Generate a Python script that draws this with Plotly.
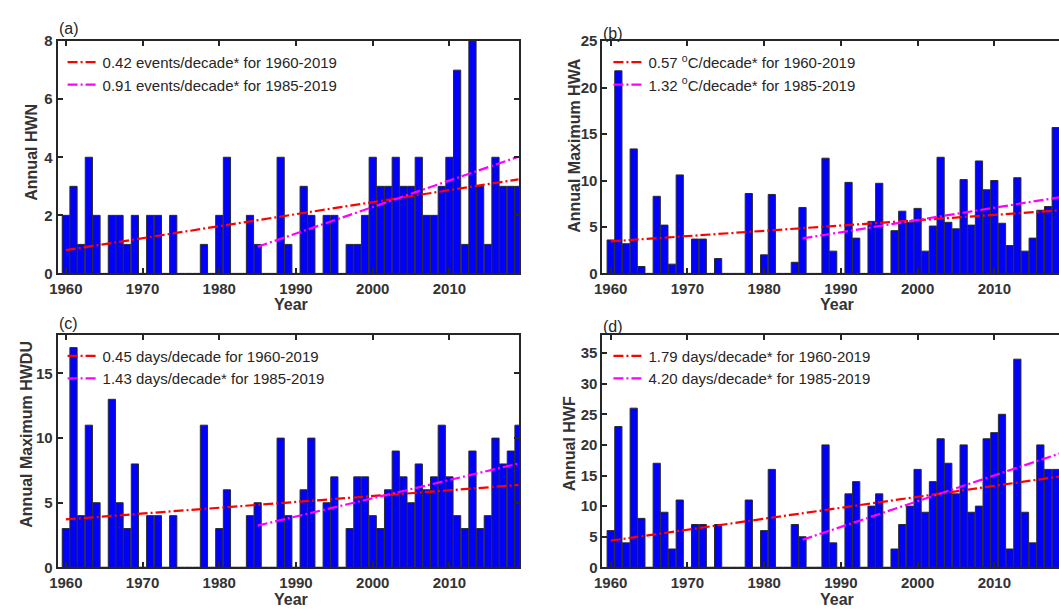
import plotly.graph_objects as go

# ---------------- data ----------------
years = list(range(1960, 2020))

hwn = [2, 3, 1, 4, 2, 0, 2, 2, 1, 2,
       0, 2, 2, 0, 2, 0, 0, 0, 1, 0,
       2, 4, 0, 0, 2, 1, 0, 0, 4, 1,
       0, 3, 2, 0, 2, 2, 0, 1, 1, 2,
       4, 3, 3, 4, 3, 3, 4, 2, 2, 3,
       4, 7, 1, 8, 3, 1, 4, 3, 3, 3]

hwa = [3.6, 21.8, 3.2, 13.4, 0.75, 0, 8.3, 5.2, 1.0, 10.6,
       0, 3.7, 3.7, 0, 1.6, 0, 0, 0, 8.6, 0,
       2.0, 8.5, 0, 0, 1.2, 7.1, 0, 0, 12.4, 2.4,
       0, 9.8, 3.8, 0, 5.6, 9.7, 0, 4.6, 6.7, 5.5,
       7.0, 2.4, 5.1, 12.5, 5.5, 4.8, 10.1, 5.2, 12.1, 9.0,
       10.0, 5.4, 3.0, 10.3, 2.4, 3.8, 6.8, 7.2, 15.7, 9.3]

hwdu = [3, 17, 4, 11, 5, 0, 13, 5, 3, 8,
        0, 4, 4, 0, 4, 0, 0, 0, 11, 0,
        3, 6, 0, 0, 4, 5, 0, 0, 10, 4,
        0, 6, 10, 0, 5, 7, 0, 3, 7, 7,
        4, 3, 6, 9, 7, 5, 8, 6, 7, 11,
        7, 4, 3, 9, 3, 4, 10, 8, 9, 11]

hwf = [6, 23, 4, 26, 8, 0, 17, 9, 3, 11,
       0, 7, 7, 0, 7, 0, 0, 0, 11, 0,
       6, 16, 0, 0, 7, 5, 0, 0, 20, 4,
       0, 12, 14, 0, 10, 12, 0, 3, 7, 10,
       16, 9, 14, 21, 17, 12, 20, 9, 10, 21,
       22, 25, 3, 34, 9, 4, 20, 16, 16, 17]

trend_full_years = [1960, 2019]
trend_recent_years = [1985, 2019]

hwn_trend_full = [0.80, 3.24]
hwn_trend_recent = [0.92, 4.02]
hwa_trend_full = [3.45, 6.81]
hwa_trend_recent = [3.77, 8.26]
hwdu_trend_full = [3.71, 6.37]
hwdu_trend_recent = [3.23, 8.03]
hwf_trend_full = [4.36, 14.92]
hwf_trend_recent = [4.50, 18.80]

legend_a = ["0.42 events/decade* for 1960-2019", "0.91 events/decade* for 1985-2019"]
legend_b = ["0.57 <sup>o</sup>C/decade* for 1960-2019", "1.32 <sup>o</sup>C/decade* for 1985-2019"]
legend_c = ["0.45 days/decade for 1960-2019", "1.43 days/decade* for 1985-2019"]
legend_d = ["1.79 days/decade* for 1960-2019", "4.20 days/decade* for 1985-2019"]

ylabels = ["Annual HWN", "Annual Maximum HWA", "Annual Maximum HWDU", "Annual HWF"]
panel_tags = ["(a)", "(b)", "(c)", "(d)"]
x_ticks = [1960, 1970, 1980, 1990, 2000, 2010]
y_ticks_a = [0, 2, 4, 6, 8]
y_ticks_b = [0, 5, 10, 15, 20, 25]
y_ticks_c = [0, 5, 10, 15]
y_ticks_d = [0, 5, 10, 15, 20, 25, 30, 35]

# ---------------- layout helpers ----------------
W, H = 1059, 612
FONT = "Liberation Sans, Arial, Helvetica, sans-serif"
AX = "#262626"
TXT = "#333333"
DASH = "10px,3px,2px,3px"


def px(p):
    return p / W


def py(p):
    return 1 - p / H


fig = go.Figure()

panels = [
    (hwn, hwn_trend_full, hwn_trend_recent, legend_a, "", "legend"),
    (hwa, hwa_trend_full, hwa_trend_recent, legend_b, "2", "legend2"),
    (hwdu, hwdu_trend_full, hwdu_trend_recent, legend_c, "3", "legend3"),
    (hwf, hwf_trend_full, hwf_trend_recent, legend_d, "4", "legend4"),
]

for vals, tf, tr, names, s, leg in panels:
    xa = "x" + s
    ya = "y" + s
    fig.add_trace(go.Bar(
        x=years, y=vals, xaxis=xa, yaxis=ya,
        marker=dict(color="#0000FF", line=dict(color="#2b2b2b", width=1)),
        showlegend=False, hoverinfo="x+y",
    ))
    fig.add_trace(go.Scatter(
        x=trend_full_years, y=tf, xaxis=xa, yaxis=ya, mode="lines",
        line=dict(color="#FF0000", width=2.2, dash=DASH),
        name=names[0], legend=leg,
    ))
    fig.add_trace(go.Scatter(
        x=trend_recent_years, y=tr, xaxis=xa, yaxis=ya, mode="lines",
        line=dict(color="#FF00FF", width=2.2, dash=DASH),
        name=names[1], legend=leg,
    ))

x_left = [px(50), px(515)]
x_right = [px(599), 1.0]
y_top = [py(272), py(33)]
y_bot = [py(574.3), py(335)]


def xaxis(domain, rng, anchor):
    return dict(
        domain=domain, range=rng, anchor=anchor,
        tickvals=x_ticks, ticks="inside", ticklen=5, tickwidth=1.5, tickcolor=AX,
        showline=True, linewidth=2, linecolor=AX, mirror="ticks",
        showgrid=False, zeroline=False,
        tickfont=dict(family=FONT, size=15, color=TXT, weight="bold"),
        ticklabelstandoff=1,
    )


def yaxis(domain, rng, ticks, anchor, mirror):
    return dict(
        domain=domain, range=rng, anchor=anchor,
        tickvals=ticks, ticks="inside", ticklen=5, tickwidth=1.5, tickcolor=AX,
        showline=True, linewidth=2, linecolor=AX, mirror=mirror,
        showgrid=False, zeroline=False,
        tickfont=dict(family=FONT, size=15, color=TXT, weight="bold"),
    )


xr_full = [1958.93, 2019.08]
xr_cut = [1958.93, 2018.43]

fig.update_layout(
    width=W, height=H,
    margin=dict(l=0, r=0, t=0, b=0),
    paper_bgcolor="white", plot_bgcolor="white",
    bargap=0.06,
    font=dict(family=FONT, color=AX),
    xaxis=xaxis(x_left, xr_full, "y"),
    yaxis=yaxis(y_top, [0, 8], y_ticks_a, "x", "ticks"),
    xaxis2=xaxis(x_right, xr_cut, "y2"),
    yaxis2=yaxis(y_top, [0, 25], y_ticks_b, "x2", False),
    xaxis3=xaxis(x_left, xr_full, "y3"),
    yaxis3=yaxis(y_bot, [0, 18], y_ticks_c, "x3", "ticks"),
    xaxis4=xaxis(x_right, xr_cut, "y4"),
    yaxis4=yaxis(y_bot, [0, 38], y_ticks_d, "x4", False),
)

leg_common = dict(
    bgcolor="rgba(0,0,0,0)", borderwidth=0,
    font=dict(family=FONT, size=15, color=AX),
    xanchor="left", yanchor="top", itemwidth=30, tracegroupgap=0,
)
fig.update_layout(
    legend=dict(x=px(55), y=py(38), **leg_common),
    legend2=dict(x=px(605), y=py(38), **leg_common),
    legend3=dict(x=px(55), y=py(340), **leg_common),
    legend4=dict(x=px(605), y=py(340), **leg_common),
)

# axis titles and panel tags
ylab_pos = [(24, 147), (570, 140), (19, 437), (566, 447)]
for text, (x, y) in zip(ylabels, ylab_pos):
    fig.add_annotation(x=px(x), y=py(y), xref="paper", yref="paper", text=text,
                       textangle=-90, showarrow=False, xanchor="center", yanchor="middle",
                       font=dict(family=FONT, size=16, color=TXT, weight="bold"))

year_pos = [(285, 304), (835, 304), (285, 607), (835, 607)]
for x, y in year_pos:
    fig.add_annotation(x=px(x), y=py(y), xref="paper", yref="paper", text="Year",
                       showarrow=False, xanchor="center", yanchor="middle",
                       font=dict(family=FONT, size=16, color=TXT, weight="bold"))

tag_pos = [(49, 20), (598, 25), (49, 323), (598, 327)]
for text, (x, y) in zip(panel_tags, tag_pos):
    fig.add_annotation(x=px(x), y=py(y), xref="paper", yref="paper", text=text,
                       showarrow=False, xanchor="left", yanchor="middle",
                       font=dict(family=FONT, size=16, color=AX))

fig.write_html("out.html")
